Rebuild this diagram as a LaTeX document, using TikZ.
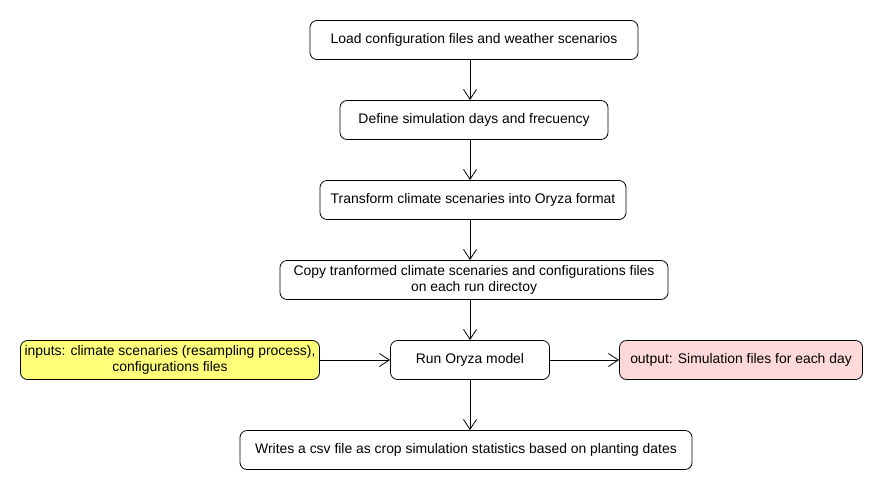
\documentclass[tikz,border=0pt]{standalone}
\usepackage{fontspec}
\setmainfont{Liberation Sans}
\usetikzlibrary{arrows.meta}
\usetikzlibrary{positioning}
\definecolor{InYellow}{HTML}{FFFF7A}
\definecolor{OutPink}{HTML}{FFD9D9}
\tikzset{
  stepbox/.style={draw, rounded corners=7pt, line width=0.8pt, align=center,
    minimum height=39pt, inner sep=2pt,
    font=\fontsize{13.9}{16}\selectfont},
  flow/.style={line width=0.8pt, -{Straight Barb[length=10pt,width=13pt]}}
}
\begin{document}
\begin{tikzpicture}[x=1pt, y=-1pt]
  \useasboundingbox (0,0) rectangle (880,490);

  % main column
  \node [stepbox, minimum width=328pt] (load)   at (474,40)  {Load configuration files and weather scenarios};
  \node [stepbox, minimum width=268pt] (define) at (474,120) {Define simulation days and frecuency};
  \node [stepbox, minimum width=306pt] (trans)  at (473,200) {Transform climate scenaries into Oryza format};
  \node [stepbox, minimum width=388pt] (copy)   at (474,280) {Copy tranformed climate scenaries and configurations files\\on each run directoy};
  \node [stepbox, minimum width=159pt] (run)    at (470,360) {Run Oryza model};
  \node [stepbox, minimum width=452pt] (writes) at (466,450) {Writes a csv file as crop simulation statistics based on planting dates};

  % side boxes
  \node [stepbox, fill=InYellow, minimum width=299pt] (inputs) at (170,360) {inputs: climate scenaries (resampling process),\\configurations files};
  \node [stepbox, fill=OutPink, minimum width=243pt]  (output) at (741,360) {output: Simulation files for each day};

  % arrows all on the run column
  \draw [flow] (load.south -| run)   -- (define.north -| run);
  \draw [flow] (define.south -| run) -- (trans.north -| run);
  \draw [flow] (trans.south -| run)  -- (copy.north -| run);
  \draw [flow] (copy.south -| run)   -- (run);
  \draw [flow] (run)    -- (writes.north -| run);
  \draw [flow] (inputs) -- (run);
  \draw [flow] (run)    -- (output);
\end{tikzpicture}
\end{document}
